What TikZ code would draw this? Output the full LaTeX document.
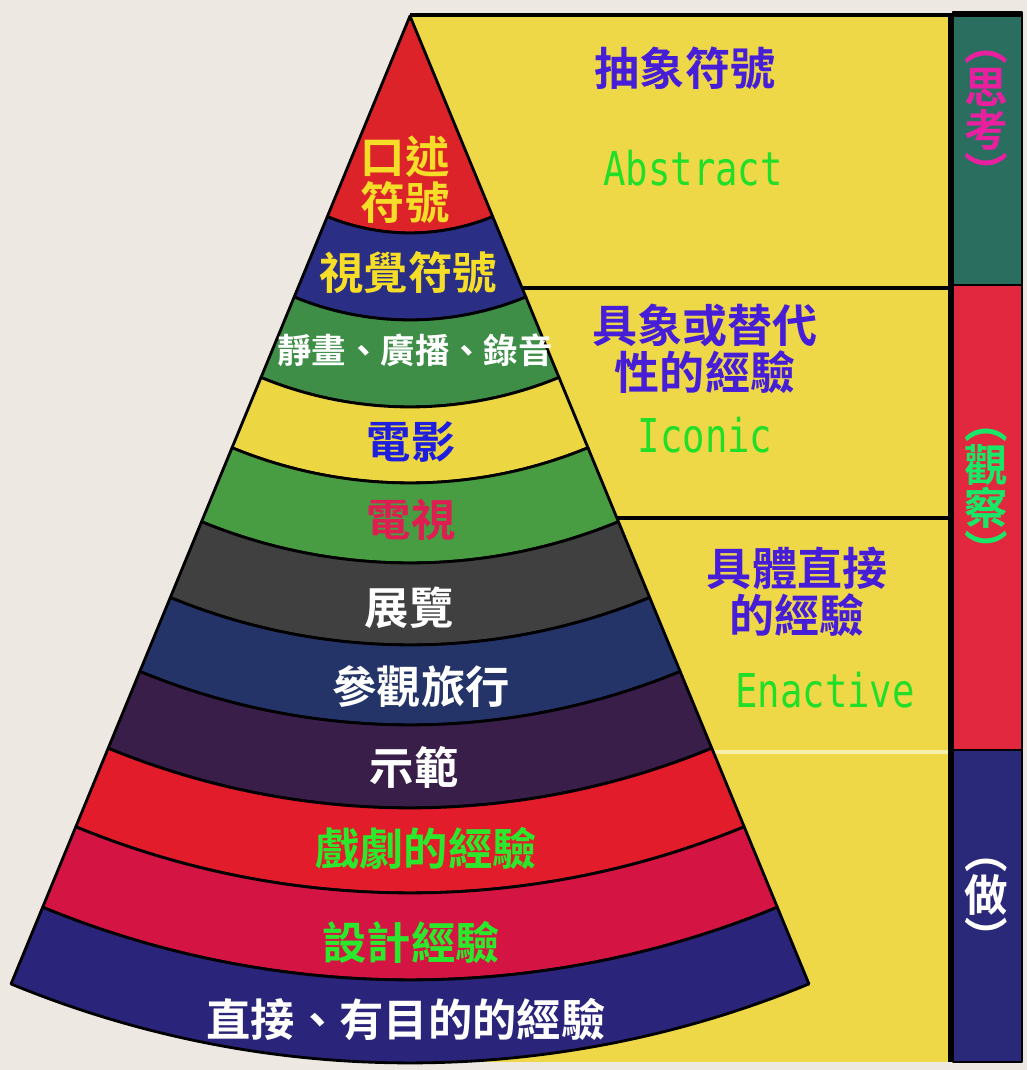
\documentclass[tikz,border=0pt]{standalone}
\usepackage{fontspec}
\usepackage{xcolor}
\usepackage{tikz}
\newfontfamily\cjk{Noto Sans CJK TC}[BoldFont={Noto Sans CJK TC Bold}]
\newfontfamily\mono{DejaVu Sans Mono}
\definecolor{paper}{RGB}{237,232,226}
\definecolor{panel}{RGB}{238,216,72}
\definecolor{oral}{RGB}{220,35,42}
\definecolor{visual}{RGB}{42,46,132}
\definecolor{still}{RGB}{62,142,72}
\definecolor{film}{RGB}{236,214,66}
\definecolor{tv}{RGB}{72,156,66}
\definecolor{exhibit}{RGB}{64,64,64}
\definecolor{trip}{RGB}{36,52,104}
\definecolor{demo}{RGB}{56,30,72}
\definecolor{drama}{RGB}{226,28,42}
\definecolor{design}{RGB}{212,20,66}
\definecolor{direct}{RGB}{42,36,122}
\definecolor{think}{RGB}{42,110,96}
\definecolor{watch}{RGB}{226,40,62}
\definecolor{doing}{RGB}{42,40,120}
\definecolor{signyellow}{RGB}{246,222,40}
\definecolor{headblue}{RGB}{70,30,215}
\definecolor{engreen}{RGB}{34,222,40}
\definecolor{filmblue}{RGB}{30,30,222}
\definecolor{tvred}{RGB}{222,30,82}
\definecolor{actgreen}{RGB}{44,232,44}
\definecolor{thinkpink}{RGB}{232,32,160}
\definecolor{watchgreen}{RGB}{24,232,104}
\tikzset{
  band/.style={draw=black,line width=0.8pt,line join=round},
  layer/.style={font=\cjk\bfseries\fontsize{12.6}{13.2}\selectfont,align=center,inner sep=0pt},
  small layer/.style={font=\cjk\bfseries\fontsize{9.8}{11}\selectfont,inner sep=0pt},
  heading/.style={font=\cjk\bfseries\fontsize{12.8}{13.4}\selectfont,text=headblue,align=center,inner sep=0pt},
  english/.style={font=\mono\fontsize{10.6}{12}\selectfont,text=engreen,inner sep=0pt,yscale=1.25},
  side/.style={font=\cjk\bfseries\fontsize{12.4}{12.2}\selectfont,align=center,inner sep=0pt}
}
\begin{document}
\begin{tikzpicture}[x=0.01cm,y=0.01cm]
\useasboundingbox (0,0) rectangle (1027,1070);
\fill[paper] (0,0) rectangle (1027,1070);
\fill[panel] (410,8) rectangle (950,1055);
  \draw[line width=0.9pt] (500,782) -- (950,782);
  \draw[line width=0.9pt] (600,552) -- (950,552);
  \draw[white!55!panel,line width=1pt] (700,318) -- (950,318);
\filldraw[band,fill=think] (953,785) rectangle (1022,1058);
\filldraw[band,fill=watch] (953,320) rectangle (1022,785);
\filldraw[band,fill=doing] (953,8) rectangle (1022,320);
  \draw[line width=1pt] (950,8) -- (950,1055);
  \draw[line width=1pt] (410,1055) -- (1022,1055);
\begin{scope}[shift={(410,1054)}]
\filldraw[band,fill=oral] (0,0) -- (247.6:217) arc[start angle=247.6,end angle=292.4,radius=217] -- cycle;
\filldraw[band,fill=visual] (247.6:217) arc[start angle=247.6,end angle=292.4,radius=217] -- (292.4:304) arc[start angle=292.4,end angle=247.6,radius=304] -- cycle;
\filldraw[band,fill=still] (247.6:304) arc[start angle=247.6,end angle=292.4,radius=304] -- (292.4:391) arc[start angle=292.4,end angle=247.6,radius=391] -- cycle;
\filldraw[band,fill=film] (247.6:391) arc[start angle=247.6,end angle=292.4,radius=391] -- (292.4:467) arc[start angle=292.4,end angle=247.6,radius=467] -- cycle;
\filldraw[band,fill=tv] (247.6:467) arc[start angle=247.6,end angle=292.4,radius=467] -- (292.4:547) arc[start angle=292.4,end angle=247.6,radius=547] -- cycle;
\filldraw[band,fill=exhibit] (247.6:547) arc[start angle=247.6,end angle=292.4,radius=547] -- (292.4:629) arc[start angle=292.4,end angle=247.6,radius=629] -- cycle;
\filldraw[band,fill=trip] (247.6:629) arc[start angle=247.6,end angle=292.4,radius=629] -- (292.4:709) arc[start angle=292.4,end angle=247.6,radius=709] -- cycle;
\filldraw[band,fill=demo] (247.6:709) arc[start angle=247.6,end angle=292.4,radius=709] -- (292.4:792) arc[start angle=292.4,end angle=247.6,radius=792] -- cycle;
\filldraw[band,fill=drama] (247.6:792) arc[start angle=247.6,end angle=292.4,radius=792] -- (292.4:877) arc[start angle=292.4,end angle=247.6,radius=877] -- cycle;
\filldraw[band,fill=design] (247.6:877) arc[start angle=247.6,end angle=292.4,radius=877] -- (292.4:964) arc[start angle=292.4,end angle=247.6,radius=964] -- cycle;
\filldraw[band,fill=direct] (247.6:964) arc[start angle=247.6,end angle=292.4,radius=964] -- (292.4:1047) arc[start angle=292.4,end angle=247.6,radius=1047] -- cycle;
\end{scope}
  \node[layer,text=signyellow] (oraltxt) at (405,890) {口述\\符號};
  \node[layer,text=signyellow] (visualtxt) at (408,797) {視覺符號};
  \node[small layer,text=white] (stilltxt) at (415,720) {靜畫、廣播、錄音};
  \node[layer,text=filmblue] (filmtxt) at (411,628) {電影};
  \node[layer,text=tvred] (tvtxt) at (411,550) {電視};
  \node[layer,text=white] (exhibittxt) at (409,462) {展覽};
  \node[layer,text=white] (triptxt) at (421,383) {參觀旅行};
  \node[layer,text=white] (demotxt) at (414,303) {示範};
  \node[layer,text=actgreen] (dramatxt) at (426,222) {戲劇的經驗};
  \node[layer,text=actgreen] (designtxt) at (411,128) {設計經驗};
  \node[layer,text=white] (directtxt) at (406,50) {直接、有目的的經驗};
  \node[heading] (abshead) at (685,1002) {抽象符號};
  \node[english] (absname) at (693,902) {Abstract};
  \node[heading] (iconhead) at (705,721) {具象或替代\\性的經驗};
  \node[english] (iconname) at (705,635) {Iconic};
  \node[heading] (enacthead) at (797,478) {具體直接\\的經驗};
  \node[english] (enactname) at (825,380) {Enactive};
  \node[side,text=thinkpink] (thinktxt) at (986,950) {︵\\思\\考\\︶};
  \node[side,text=watchgreen] (watchtxt) at (986,572) {︵\\觀\\察\\︶};
  \node[side,text=white] (dotxt) at (986,163) {︵\\做\\︶};
\end{tikzpicture}
\end{document}
